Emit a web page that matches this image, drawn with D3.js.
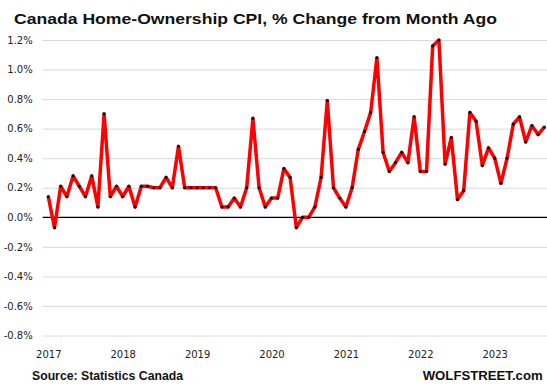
<html>

<head>
  <style>
    body {
      margin: 0;
      background: #fff;
    }
    .title {
      font-family: "Liberation Sans", Arial, sans-serif;
      font-weight: bold;
      font-size: 15px;
      fill: #111;
    }
    .tick text {
      font-family: "DejaVu Sans", Verdana, sans-serif;
      font-size: 10px;
      fill: #222;
    }
    .grid line {
      stroke: #d9d9d9;
      stroke-width: 1;
    }
    .grid .domain, .xaxis .domain, .xaxis line {
      display: none;
    }
    .zero {
      stroke: #000;
      stroke-width: 1.3;
    }
    .series {
      fill: none;
      stroke: #ff0000;
      stroke-width: 3.5;
      stroke-linejoin: round;
    }
    .dot {
      fill: #111;
    }
    .note {
      font-family: "Liberation Sans", Arial, sans-serif;
      font-weight: bold;
      font-size: 12.5px;
      fill: #111;
    }
  </style>
</head>

<body>
<svg class="chart"></svg>
<script src="https://cdn.jsdelivr.net/npm/d3@7"></script>
<script>
    // monthly % change, Jan 2017 .. Sep 2023
    var values = [
      0.14, -0.07, 0.21, 0.14, 0.28, 0.21, 0.14, 0.28, 0.07, 0.70, 0.14, 0.21,
      0.14, 0.21, 0.07, 0.21, 0.21, 0.20, 0.20, 0.27, 0.20, 0.48, 0.20, 0.20,
      0.20, 0.20, 0.20, 0.20, 0.07, 0.07, 0.13, 0.07, 0.20, 0.67, 0.20, 0.07,
      0.13, 0.13, 0.33, 0.27, -0.07, 0.00, 0.00, 0.07, 0.27, 0.79, 0.20, 0.13,
      0.07, 0.20, 0.46, 0.58, 0.71, 1.08, 0.44, 0.31, 0.37, 0.44, 0.37, 0.68,
      0.31, 0.31, 1.16, 1.20, 0.36, 0.54, 0.12, 0.18, 0.71, 0.65, 0.35, 0.47,
      0.40, 0.23, 0.40, 0.63, 0.68, 0.51, 0.62, 0.56, 0.61
    ];
    var yearLabels = ["2017", "2018", "2019", "2020", "2021", "2022", "2023"];
    var yTicks = [-0.8, -0.6, -0.4, -0.2, 0, 0.2, 0.4, 0.6, 0.8, 1.0, 1.2];

    var width = 547, height = 390;
    // plot edges (avoid the name "top", it is window.top)
    var plotLeft = 42.7, plotRight = 547, plotTop = 40, plotBottom = 335.5;

    var chart = d3.select(".chart")
      .attr("width", width)
      .attr("height", height);

    // month index -> x; point 0 sits under the 2017 label
    var x = d3.scaleLinear()
      .domain([0, values.length - 1])
      .range([48.3, 48.3 + (values.length - 1) * 6.2]);

    var y = d3.scaleLinear()
      .domain([-0.8, 1.2])
      .range([plotBottom, plotTop]);

    chart.append("g")
      .attr("class", "grid")
      .attr("transform", "translate(" + plotLeft + ",0)")
      .call(d3.axisLeft(y)
        .tickValues(yTicks)
        .tickSize(-(plotRight - plotLeft))
        .tickPadding(10)
        .tickFormat(function(d) { return d.toFixed(1) + "%"; }));

    chart.append("g")
      .attr("class", "xaxis")
      .attr("transform", "translate(0," + (plotBottom + 12) + ")")
      .call(d3.axisBottom(x)
        .tickValues(yearLabels.map(function(d, i) { return i * 12; }))
        .tickSize(0)
        .tickFormat(function(d) { return yearLabels[d / 12]; }));

    chart.append("line")
      .attr("class", "zero")
      .attr("x1", plotLeft)
      .attr("x2", plotRight)
      .attr("y1", y(0))
      .attr("y2", y(0));

    chart.append("path")
      .datum(values)
      .attr("class", "series")
      .attr("d", d3.line()
        .x(function(d, i) { return x(i); })
        .y(function(d) { return y(d); }));

    chart.selectAll(".dot")
      .data(values)
      .enter()
      .append("circle")
      .attr("class", "dot")
      .attr("r", 1.6)
      .attr("cx", function(d, i) { return x(i); })
      .attr("cy", function(d) { return y(d); });

    chart.append("text")
      .attr("class", "title")
      .attr("x", 14)
      .attr("y", 24)
      .attr("textLength", 483)
      .attr("lengthAdjust", "spacingAndGlyphs")
      .text("Canada Home-Ownership CPI, % Change from Month Ago");

    chart.append("text")
      .attr("class", "note")
      .attr("x", 32)
      .attr("y", 380)
      .attr("textLength", 151)
      .attr("lengthAdjust", "spacingAndGlyphs")
      .text("Source: Statistics Canada");

    chart.append("text")
      .attr("class", "note")
      .attr("x", 422.7)
      .attr("y", 380)
      .attr("textLength", 120)
      .attr("lengthAdjust", "spacingAndGlyphs")
      .text("WOLFSTREET.com");

</script>
</body>
</html>
